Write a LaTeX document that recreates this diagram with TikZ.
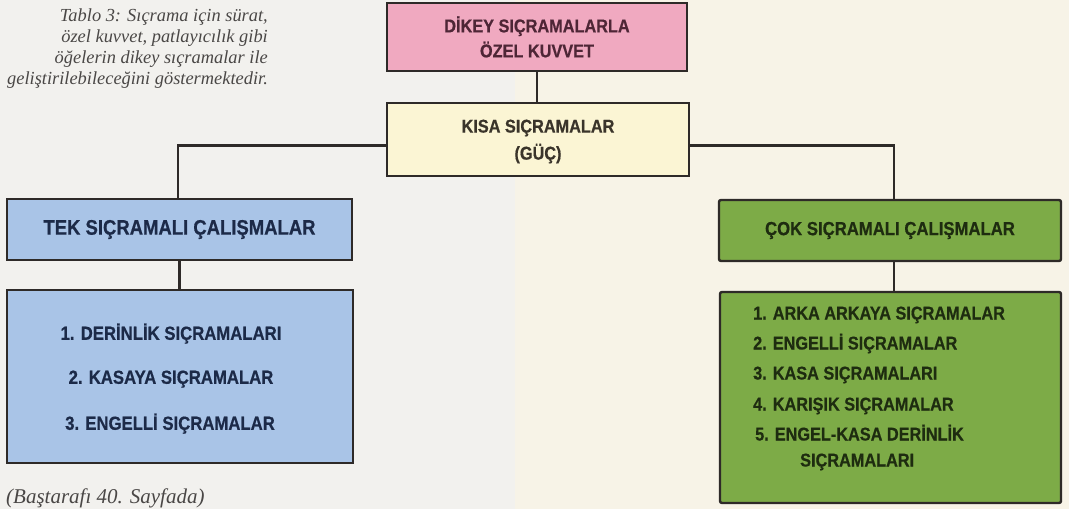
\documentclass[tikz,border=0pt]{standalone}
\usepackage{fontspec}
\newfontfamily\boxfont[FakeStretch=0.88,FakeBold=0.6]{Liberation Sans Bold}
\newfontfamily\capfont{Liberation Serif Italic}
\definecolor{bgleft}{HTML}{F2F1EE}
\definecolor{bgright}{HTML}{F7F3E7}
\definecolor{bordercol}{HTML}{2E2A28}
\definecolor{pinkc}{HTML}{F0A9C0}
\definecolor{pinktext}{HTML}{4E2636}
\definecolor{yellowc}{HTML}{FBF5D4}
\definecolor{yellowtext}{HTML}{3A342A}
\definecolor{bluec}{HTML}{A9C4E7}
\definecolor{bluetext}{HTML}{1C2A48}
\definecolor{greenc}{HTML}{7DAB47}
\definecolor{greentext}{HTML}{1E2C10}
\definecolor{captext}{HTML}{4A4746}
\begin{document}
\begin{tikzpicture}[x=1pt,y=-1pt,
  box/.style={draw=bordercol, line width=2.4pt, inner sep=0pt, align=center},
  conn/.style={draw=bordercol, line width=2.4pt},
  bitem/.style={inner sep=0pt, text=bluetext, font=\boxfont\fontsize{19}{19}\selectfont},
  gitem/.style={inner sep=0pt, text=greentext, font=\boxfont\fontsize{18.5}{18.5}\selectfont},
  captionstyle/.style={inner sep=0pt, text=captext, font=\capfont\fontsize{18.4}{21}\selectfont}]
\useasboundingbox (0,0) rectangle (1069,509);
\fill[bgleft] (0,0) rectangle (515,509);
\fill[bgright] (515,0) rectangle (1069,509);

% caption
\node[captionstyle, align=right, anchor=north east] (cap) at (268,9)
  {Tablo 3: Sıçrama için sürat,\\özel kuvvet, patlayıcılık gibi\\öğelerin dikey sıçramalar ile\\geliştirilebileceğini göstermektedir.};
\node[captionstyle, font=\capfont\fontsize{21}{21}\selectfont, anchor=base west] (cont) at (6,503) {(Baştarafı 40. Sayfada)};

% boxes
\node[box, fill=pinkc, text=pinktext, minimum width=300pt, minimum height=68pt,
  font=\boxfont\fontsize{18.5}{25}\selectfont] (pink) at (537,37) {DİKEY SIÇRAMALARLA\\ÖZEL KUVVET};
\node[box, fill=yellowc, text=yellowtext, minimum width=302pt, minimum height=73pt,
  font=\boxfont\fontsize{18.5}{27}\selectfont] (yellow) at (538,139.5) {\rule{0pt}{17pt}KISA SIÇRAMALAR\\(GÜÇ)};
\node[box, fill=bluec, text=bluetext, minimum width=345pt, minimum height=61pt,
  font=\boxfont\fontsize{21}{21}\selectfont] (blueH) at (179.5,229.5) {TEK SIÇRAMALI ÇALIŞMALAR};
\node[box, fill=bluec, minimum width=346pt, minimum height=173pt] (blueL) at (180,376.5) {};
\node[box, fill=greenc, text=greentext, minimum width=342pt, minimum height=61pt, rounded corners=2pt,
  font=\boxfont\fontsize{19}{19}\selectfont] (greenH) at (890,230.5) {ÇOK SIÇRAMALI ÇALIŞMALAR};
\node[box, fill=greenc, minimum width=341pt, minimum height=211pt, rounded corners=2pt] (greenL) at (890.5,397.5) {};

% list items
\node[bitem, anchor=base] (b1) at (171,339.8) {1. DERİNLİK SIÇRAMALARI};
\node[bitem, anchor=base] (b2) at (171,383.8) {2. KASAYA SIÇRAMALAR};
\node[bitem, anchor=base] (b3) at (170,429.8) {3. ENGELLİ SIÇRAMALAR};

\node[gitem, anchor=base west] (g1) at (753,319.5) {1. ARKA ARKAYA SIÇRAMALAR};
\node[gitem, anchor=base west] (g2) at (753,349.5) {2. ENGELLİ SIÇRAMALAR};
\node[gitem, anchor=base west] (g3) at (753,379.5) {3. KASA SIÇRAMALARI};
\node[gitem, anchor=base west] (g4) at (753,410.5) {4. KARIŞIK SIÇRAMALAR};
\node[gitem, anchor=base west] (g5) at (755,440.5) {5. ENGEL-KASA DERİNLİK};
\node[gitem, anchor=base west] (g6) at (800,466.5) {SIÇRAMALARI};

% connectors
\draw[conn] (pink.south) -- (pink.south |- yellow.north);
\draw[conn] ([yshift=-6pt]yellow.west) -| ([xshift=-1.5pt]blueH.north);
\draw[conn] ([yshift=-6pt]yellow.east) -| ([xshift=4pt]greenH.north);
\draw[conn] (blueH.south) -- (blueH.south |- blueL.north);
\draw[conn] ([xshift=4pt]greenH.south) -- ([xshift=4pt]greenH.south |- greenL.north);
\end{tikzpicture}
\end{document}
